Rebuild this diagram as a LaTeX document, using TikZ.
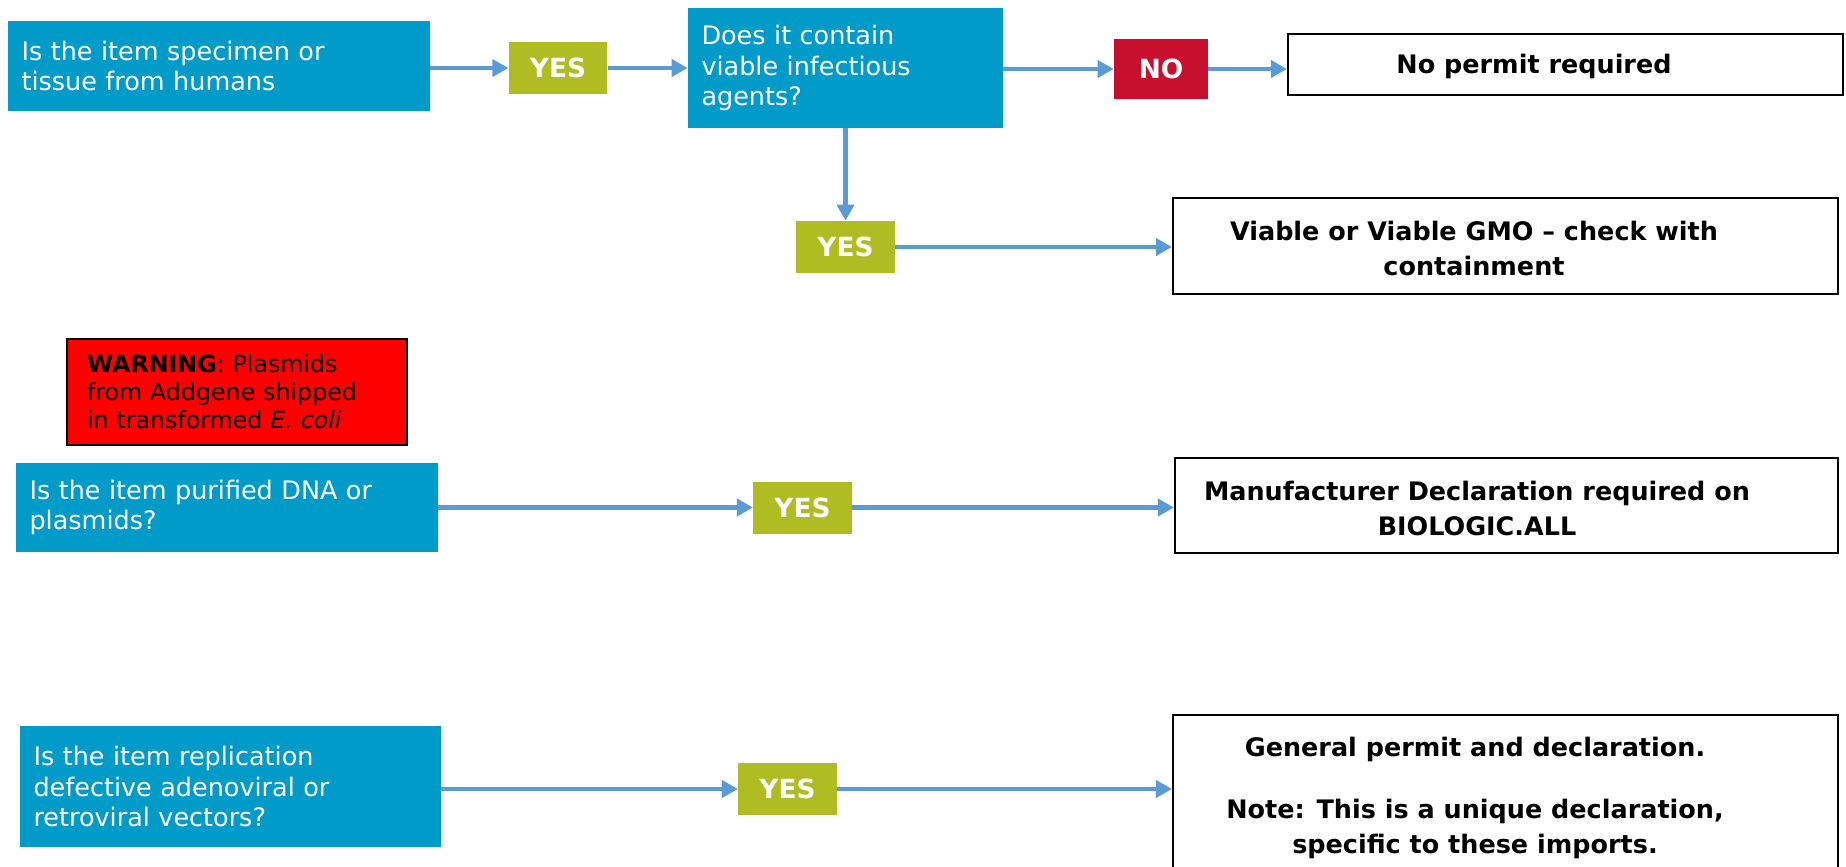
\documentclass[tikz,border=0pt]{standalone}
\usepackage{fontspec}
\setmainfont{DejaVu Sans}
\usepackage{xcolor}
\usepackage{tikz}
\usetikzlibrary{positioning,arrows.meta}

\definecolor{qblue}{RGB}{0,155,200}
\definecolor{yesgreen}{RGB}{176,189,34}
\definecolor{nored}{RGB}{200,16,46}
\definecolor{arrowblue}{RGB}{91,155,213}

\tikzset{
    question/.style={fill=qblue, text=white, align=left, inner xsep=0.27cm, inner ysep=0pt, font=\fontsize{14.5}{17.6}\selectfont},
    yesbox/.style={fill=yesgreen, text=white, font=\bfseries\fontsize{15}{18}\selectfont, minimum width=1.97cm, minimum height=1.04cm},
    nobox/.style={fill=nored, text=white, font=\bfseries\fontsize{15}{18}\selectfont, minimum width=1.88cm, minimum height=1.2cm},
    warnbox/.style={draw=black, fill=red, line width=0.04cm, align=left, text width=6.0cm, inner xsep=0.4cm, minimum height=2.12cm, font=\fontsize{13.5}{15.9}\selectfont},
    result/.style={draw=black, line width=0.045cm, fill=white},
    restext/.style={font=\bfseries\fontsize{14.5}{19.9}\selectfont, align=center},
    arr/.style={draw=arrowblue, line width=0.09cm, -{Triangle[length=0.32cm,width=0.34cm]}}
}

\begin{document}
\begin{tikzpicture}[x=0.02cm, y=-0.02cm]
    \useasboundingbox (0,0) rectangle (1846,866);

    % Human specimen
    \node[question, text width=7.9cm, minimum height=1.8cm] (human) at (219,66) {Is the item specimen or\\tissue from humans};
    \node[yesbox] (yes1) at (558,68) {YES};
    \node[question, text width=5.76cm, minimum height=2.4cm] (viable) at (845.5,68) {Does it contain\\viable infectious\\agents?};
    \node[nobox] (no1) at (1161,69) {NO};
    \node[result, minimum width=11.1cm, minimum height=1.22cm] (nopermit) at (1565.5,64.5) {};
    \node[restext] (nopermit-txt) at (1534,66) {No permit required};

    % Viable
    \node[yesbox] (yes2) at (845.5,247) {YES};
    \node[result, minimum width=13.3cm, minimum height=1.92cm] (containment) at (1505.5,246) {};
    \node[restext] (containment-txt) at (1474,248.5) {Viable or Viable GMO -- check with\\containment};

    % Warning
    \node[warnbox] (warning) at (237,392) {\textbf{WARNING}: Plasmids\\from Addgene shipped\\in transformed \textit{E. coli}};

    % DNA / plasmids
    \node[question, text width=7.9cm, minimum height=1.78cm] (dna) at (227,507.5) {Is the item purified DNA or\\plasmids?};
    \node[yesbox] (yes3) at (802.5,507.5) {YES};
    \node[result, minimum width=13.26cm, minimum height=1.9cm] (manufacturer) at (1506.5,505.5) {};
    \node[restext] (manufacturer-txt) at (1477,508.5) {Manufacturer Declaration required on\\BIOLOGIC.ALL};

    % Viral vectors
    \node[question, text width=7.88cm, minimum height=2.42cm] (vectors) at (230.5,786.5) {Is the item replication\\defective adenoviral or\\retroviral vectors?};
    \node[yesbox] (yes4) at (787.5,789) {YES};
    \node[result, minimum width=13.3cm, minimum height=3.4cm] (general) at (1505.5,800) {};
    \node[restext] (general-txt) at (1475,797.5) {General permit and declaration.\\[0.54cm]Note: This is a unique declaration,\\specific to these imports.};

    % Arrows
    \draw[arr] (human.east |- yes1.west) -- (yes1.west);
    \draw[arr] (yes1.east) -- (yes1.east -| viable.west);
    \draw[arr] (viable.east |- no1.west) -- (no1.west);
    \draw[arr] (no1.east) -- (no1.east -| nopermit.west);
    \draw[arr] (viable.south) -- (yes2.north);
    \draw[arr] (yes2.east) -- (yes2.east -| containment.west);
    \draw[arr] (dna.east |- yes3.west) -- (yes3.west);
    \draw[arr] (yes3.east) -- (yes3.east -| manufacturer.west);
    \draw[arr] (vectors.east |- yes4.west) -- (yes4.west);
    \draw[arr] (yes4.east) -- (yes4.east -| general.west);
\end{tikzpicture}
\end{document}
